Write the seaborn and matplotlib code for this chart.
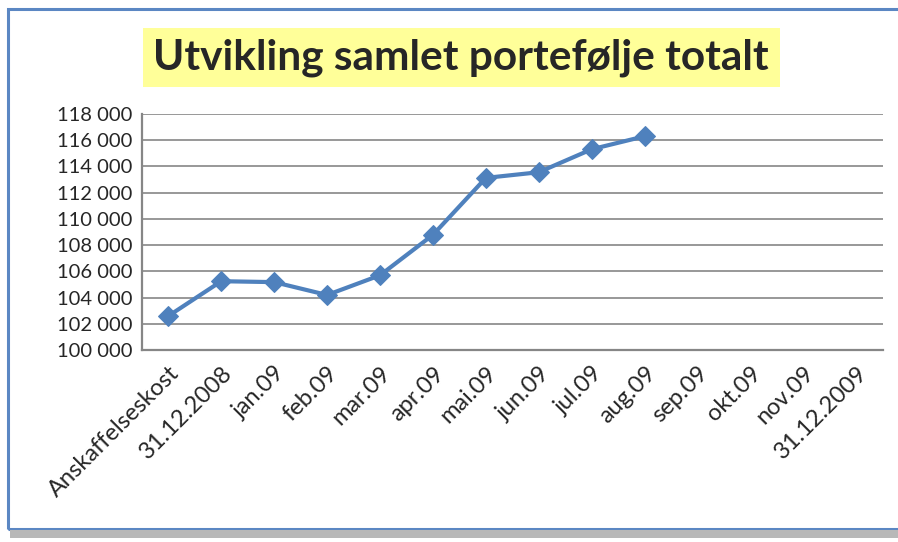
"""Utvikling samlet portefølje totalt — line chart recreated with seaborn."""

import matplotlib
matplotlib.use("Agg")
import matplotlib.pyplot as plt
from matplotlib.patches import Rectangle
import numpy as np
import pandas as pd
import seaborn as sns

# Data
categories = [
    "Anskaffelseskost", "31.12.2008", "jan.09", "feb.09", "mar.09", "apr.09",
    "mai.09", "jun.09", "jul.09", "aug.09", "sep.09", "okt.09", "nov.09",
    "31.12.2009",
]
values = [102600, 105250, 105180, 104200, 105700, 108780,
          113120, 113550, 115300, 116290]
y_ticks = [100000, 102000, 104000, 106000, 108000, 110000, 112000,
           114000, 116000, 118000]
title = "Utvikling samlet portefølje totalt"

LINE_COLOR = "#4F81BD"
GRID_COLOR = "#868686"

sns.set_style("white")
plt.rcParams["font.family"] = ["Lato", "DejaVu Sans"]

df = pd.DataFrame({"pos": np.arange(len(values)), "value": values})

fig = plt.figure(figsize=(8.98, 5.42), dpi=100)

# chart frame: blue border plus grey shadow at the bottom
fig.patches.append(Rectangle((0.009, 0.024), 1.0, 0.96, transform=fig.transFigure,
                             fill=False, edgecolor="#5B87C3", linewidth=2.2, zorder=0))
fig.patches.append(Rectangle((0.011, 0.008), 0.99, 0.014, transform=fig.transFigure,
                             facecolor="#B8B8B8", edgecolor="none", zorder=0))

ax = fig.add_axes([0.158, 0.354, 0.825, 0.436])

sns.lineplot(data=df, x="pos", y="value", ax=ax, color=LINE_COLOR, linewidth=3,
             marker="D", markersize=10, markeredgecolor=LINE_COLOR)

ax.set_xlim(-0.5, len(categories) - 0.5)
ax.set_ylim(y_ticks[0], y_ticks[-1])

ax.set_yticks(y_ticks)
ax.set_yticklabels([f"{v:,}".replace(",", " ") for v in y_ticks], fontsize=14.5)
ax.yaxis.grid(True, color=GRID_COLOR, linewidth=1.2)
ax.set_axisbelow(True)

ax.set_xticks(np.arange(len(categories)))
ax.set_xticklabels(categories, rotation=45, ha="right", va="top",
                   rotation_mode="anchor", fontsize=17)
ax.set_xticks(np.arange(len(categories) + 1) - 0.5, minor=True)
ax.tick_params(axis="x", which="major", length=0, pad=9)
ax.tick_params(axis="x", which="minor", length=6, width=1.2, color=GRID_COLOR,
               direction="out")
ax.tick_params(axis="y", length=5, width=1.2, color=GRID_COLOR, direction="out", pad=2)

for side in ["top", "right"]:
    ax.spines[side].set_visible(False)
for side in ["left", "bottom"]:
    ax.spines[side].set_color(GRID_COLOR)
    ax.spines[side].set_linewidth(1.6)

ax.set_xlabel("")
ax.set_ylabel("")

fig.text(0.5135, 0.894, title, ha="center", va="center", fontsize=30.5,
         fontweight="bold",
         bbox=dict(boxstyle="square,pad=0.25", facecolor="#FFFF99", edgecolor="none"))

fig.savefig("out.png", dpi=100)
